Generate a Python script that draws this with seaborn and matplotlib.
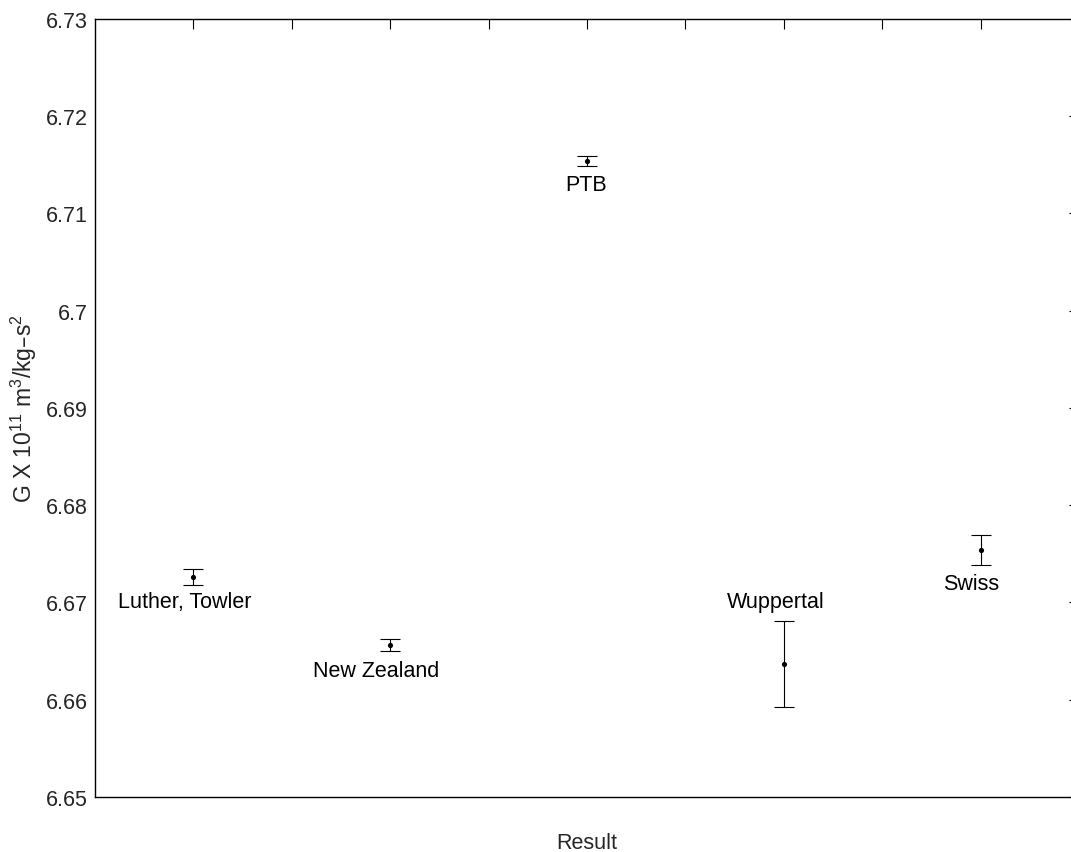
import matplotlib
matplotlib.use("Agg")
import matplotlib.pyplot as plt
import seaborn as sns
import pandas as pd
from matplotlib.ticker import FixedLocator, FixedFormatter

labels = ["Luther, Towler", "New Zealand", "PTB", "Wuppertal", "Swiss"]
x_pos = [1, 3, 5, 7, 9]
g_values = [6.6726, 6.6656, 6.7154, 6.6637, 6.6754]
g_errors = [0.0008, 0.0006, 0.0005, 0.0044, 0.0015]
label_x = [0.23, 2.215, 4.78, 6.42, 8.62]
label_y = [6.6701, 6.6630, 6.7130, 6.6701, 6.6720]
y_ticks = [6.65, 6.66, 6.67, 6.68, 6.69, 6.70, 6.71, 6.72, 6.73]
y_tick_labels = ["6.65", "6.66", "6.67", "6.68", "6.69", "6.7", "6.71", "6.72", "6.73"]
x_ticks = [1, 2, 3, 4, 5, 6, 7, 8, 9]

df = pd.DataFrame({"x": x_pos, "G": g_values, "err": g_errors, "label": labels})

sns.set_style("white")
plt.rcParams["font.family"] = ["Liberation Sans", "DejaVu Sans"]
plt.rcParams["mathtext.default"] = "regular"

fig = plt.figure(figsize=(10.71, 8.53), dpi=100)
ax = fig.add_axes([95 / 1071, 55 / 853, 984 / 1071, 778 / 853])

ax.errorbar(df["x"], df["G"], yerr=df["err"], fmt="none", ecolor="black",
            elinewidth=0.8, capsize=7.5, capthick=0.8)
sns.scatterplot(data=df, x="x", y="G", ax=ax, color="black", s=14,
                edgecolor="black", linewidth=0, legend=False)

for lx, ly, t in zip(label_x, label_y, labels):
    ax.text(lx, ly, t, ha="left", va="center", fontsize=15.5, color="black")

ax.set_xlim(0, 10)
ax.set_ylim(6.65, 6.73)
ax.yaxis.set_major_locator(FixedLocator(y_ticks))
ax.yaxis.set_major_formatter(FixedFormatter(y_tick_labels))
ax.xaxis.set_major_locator(FixedLocator(x_ticks))
ax.set_xticklabels([])

ax.tick_params(axis="both", direction="in", length=7.5, width=0.8, color="black",
               top=True, right=True, labelsize=15.5, pad=5)
for s in ax.spines.values():
    s.set_visible(True)
    s.set_color("black")
    s.set_linewidth(1.0)

ax.set_xlabel("Result", fontsize=15.5, labelpad=20)
ax.set_ylabel("G X 10$^{11}$ m$^{3}$/kg\u2013s$^{2}$", fontsize=16.5, labelpad=5)

fig.savefig("out.png", dpi=100)
